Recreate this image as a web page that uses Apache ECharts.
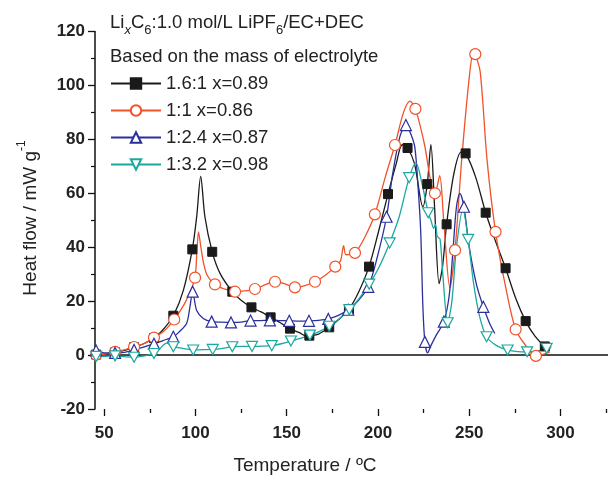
<!DOCTYPE html>
<html><head><meta charset="utf-8">
<script src="https://cdn.jsdelivr.net/npm/echarts@6/dist/echarts.min.js"></script>
<style>html,body{margin:0;padding:0;background:#fff}#c{width:608px;height:477px}</style>
</head><body><div id="c"></div>
<script>
const seriesNames = ['1.6:1 x=0.89', '1:1 x=0.86', '1:2.4 x=0.87', '1:3.2 x=0.98'];
const xMajorTicks = [50, 100, 150, 200, 250, 300];
const xMinorTicks = [75, 125, 175, 225, 275, 325];

const blackCurve = [[45,0],[50,0.3],[61,1.7],[72,4.3],[82,9.2],[93.4,24],[100.7,51.3],[102.9,66.3],[105.2,51.3],[113.5,30.3],[125,20.3],[136,16],[146.5,12],[157,8.3],[160.5,7.1],[167.5,7.8],[178.5,13.2],[189.5,23.5],[200,45],[210,71],[213.3,78],[220,71],[224.6,55],[229,78],[231,55],[233.5,26.5],[235.4,33],[241.5,67],[245.5,75.3],[253.5,66],[264.5,42],[275.5,21],[286,7],[294.5,2.5]];
const blackMarks = [[45.6,0.2],[56,1],[66.4,2.9],[77.3,6.3],[87.9,14.6],[98.3,39.2],[109.2,38.3],[120.2,23.5],[130.7,17.7],[141.2,14],[151.8,9.8],[162.4,7.2],[173.3,10.3],[184.1,17],[195.1,32.8],[205.5,59.7],[216.2,76.8],[227,63.4],[237.6,48.5],[248,74.8],[259,52.8],[269.9,32.2],[280.9,12.6],[291.4,3.2]];

const redCurve = [[45,0],[50,0.3],[61,1.9],[72,4.3],[83,9],[94,19],[97.5,24],[100.8,38],[101.7,45.7],[103,40],[104.5,34],[106.5,29.5],[116,24.5],[127,23.8],[138,26],[149,26.4],[160,25.8],[171,29.5],[179.5,35],[181.2,40.6],[182.5,37.2],[193,44],[204,66],[214,90],[217.5,94.2],[225.5,78],[229,64],[233.8,66.5],[236,50],[239.4,25],[245.8,72],[250,103],[252.3,112.5],[256,105],[259.8,72],[270,25],[281,3.5],[290,0.2],[294.2,1.2]];
const redMarks = [[45.6,0.1],[56,1.2],[66.4,3],[77.3,6.5],[88.4,13.2],[99.8,28.7],[110.7,26.2],[121.7,23.5],[132.6,24.5],[143.6,27.2],[154.5,25.1],[165.5,27.2],[176.6,32.8],[187.4,37.9],[198.3,52.2],[209.3,77.9],[220.5,91.3],[231.2,60],[242.2,38.9],[253.3,111.6],[264.4,45.7],[275.4,9.5],[286.5,-0.3]];

const blueCurve = [[45,1.2],[50,0.8],[61,1],[72,3],[82,5.3],[91,8.5],[95.2,11.8],[97,17.9],[100.7,16.5],[104.3,13.6],[114,12.2],[125,12.2],[135.5,12.8],[146,12.8],[157,12.6],[167.5,12.9],[178,14.6],[189,20],[199.5,36],[208,67],[212,81],[218,82],[220.2,77],[222,62],[223.4,46],[224.6,18],[227.2,0.8],[229,3.5],[232,7.5],[239,22],[241,38],[243,55],[244.9,60],[250,40],[254,26],[261,12],[264,8]];
const blueMarks = [[45.6,1.7],[56,0.8],[66.4,1.9],[77.3,4.2],[87.9,6.8],[98.5,23.5],[108.9,12.4],[119.5,12.1],[130.2,12.8],[140.8,12.9],[151.4,12.7],[162.2,12.7],[172.8,13.4],[183.7,16.8],[194.7,25.3],[204.7,51.3],[215.3,85.3],[225.7,4.9],[236.1,12.4],[247.1,55],[257.7,17.9]];

const cyanCurve = [[45,-1],[50,-0.5],[61,-0.6],[72,-0.3],[80,2],[84.3,4.4],[93,2.5],[104,2],[115,2.5],[126,3.2],[136.5,3.3],[147,4.2],[157.5,6.2],[168,8.8],[178.5,13.3],[189.5,20.8],[200.5,32.5],[211.5,51],[220.8,71.3],[224,64],[229,50],[230.5,47],[231.5,48.5],[232.5,44],[234,43],[235.5,30],[240.5,20],[243,40],[246.5,54],[252.5,26],[255.8,14],[265,3.5],[276.5,1.3],[287,1.5],[295,3]];
const cyanMarks = [[45.6,-0.5],[56,-0.3],[66.4,-0.8],[77.3,0.6],[87.9,3.1],[98.8,1.9],[109.5,2.1],[120.2,3.1],[131,3.2],[141.8,3.5],[152.3,5.2],[162.7,7.4],[173.3,10.7],[184.3,16.8],[195.2,26.3],[206.4,41.6],[217.1,65.8],[227.5,52.8],[238.2,12],[249.4,42.9],[259.5,6.8],[271,1.9],[281.7,1.2],[292.4,2.5]];

const FONT = '"Liberation Sans", Arial, Helvetica, sans-serif';
const colors = ['#1a1a1a', '#f0522a', '#2b2f9c', '#1aa89f'];

function merge(curve, marks) {
  const items = curve.map(p => ({ value: p, symbol: 'none' }))
    .concat(marks.map(p => ({ value: p })));
  items.sort((a, b) => a.value[0] - b.value[0]);
  return items;
}

function mk(i, curve, marks, symbol, size, filled) {
  return {
    name: seriesNames[i],
    type: 'line',
    xAxisIndex: 0,
    data: merge(curve, marks),
    smooth: 0.3,
    showAllSymbol: true,
    symbol: symbol,
    symbolSize: size,
    lineStyle: { color: colors[i], width: 1.3 },
    itemStyle: filled ? { color: colors[i], borderColor: colors[i], borderWidth: 1 }
                      : { color: '#ffffff', borderColor: colors[i], borderWidth: 1.2 },
    emphasis: { disabled: true },
    animation: false
  };
}

function tickAxis(values, len) {
  return {
    type: 'value', min: 45, max: 326, position: 'bottom', offset: 0,
    axisLine: { show: false },
    axisTick: { show: true, length: len, customValues: values, lineStyle: { color: '#111', width: 1.3 } },
    axisLabel: { show: false },
    splitLine: { show: false }
  };
}

const chart = echarts.init(document.getElementById('c'), null, { renderer: 'canvas' });
chart.setOption({
  backgroundColor: '#ffffff',
  animation: false,
  grid: { left: 95, right: 0, top: 31.5, bottom: 68, containLabel: false },
  xAxis: [{
    type: 'value', min: 45, max: 326,
    axisLine: { show: true, lineStyle: { color: '#111', width: 1.5 } },
    axisTick: { show: false },
    axisLabel: { customValues: xMajorTicks, fontSize: 17, fontWeight: 'bold', color: '#222', fontFamily: FONT, margin: 16 },
    splitLine: { show: false }
  }, tickAxis(xMinorTicks, 4), tickAxis(xMajorTicks, 7)],
  yAxis: {
    type: 'value', min: -20, max: 120, interval: 20,
    axisLine: { show: true, onZero: false, lineStyle: { color: '#111', width: 1.5 } },
    axisTick: { show: true, length: 7, lineStyle: { color: '#111', width: 1.3 } },
    minorTick: { show: true, splitNumber: 2, length: 4, lineStyle: { color: '#111', width: 1.2 } },
    axisLabel: { fontSize: 17, fontWeight: 'bold', color: '#222', fontFamily: FONT, margin: 10 },
    splitLine: { show: false }
  },
  legend: {
    orient: 'vertical', left: 105, top: 69,
    itemWidth: 50, itemHeight: 13, itemGap: 8,
    textStyle: { fontSize: 18.5, color: '#222', fontFamily: FONT, lineHeight: 17 },
    data: seriesNames,
    selectedMode: false
  },
  graphic: [
    {
      type: 'text', left: 110, top: 13,
      style: {
        text: '{n|Li}{s|x}{n|C}{t|6}{n|:1.0 mol/L LiPF}{t|6}{n|/EC+DEC}',
        rich: {
          n: { fontSize: 18.5, fontFamily: FONT, fill: '#222', lineHeight: 28, verticalAlign: 'top' },
          s: { fontSize: 13, fontFamily: FONT, fill: '#222', fontStyle: 'italic', lineHeight: 28, verticalAlign: 'top', padding: [11,0,0,0] },
          t: { fontSize: 13, fontFamily: FONT, fill: '#222', lineHeight: 28, verticalAlign: 'top', padding: [11,0,0,0] }
        }
      }
    },
    {
      type: 'text', left: 110, top: 47,
      style: { text: 'Based on the mass of electrolyte', font: '18.5px ' + FONT, fill: '#222' }
    },
    {
      type: 'text', x: 305, y: 466,
      style: { text: 'Temperature / ºC', font: '19px ' + FONT, fill: '#222', align: 'center', verticalAlign: 'middle' }
    },
    {
      type: 'text', x: 28, y: 218, rotation: Math.PI / 2,
      style: {
        text: '{n|Heat flow / mW g}{s|-1}', align: 'center', verticalAlign: 'middle',
        rich: {
          n: { fontSize: 19, fontFamily: FONT, fill: '#222', lineHeight: 24, verticalAlign: 'bottom' },
          s: { fontSize: 12, fontFamily: FONT, fill: '#222', lineHeight: 24, verticalAlign: 'top' }
        }
      }
    }
  ],
  series: [
    mk(0, blackCurve, blackMarks, 'rect', 9, true),
    mk(1, redCurve, redMarks, 'circle', 11, false),
    mk(2, blueCurve, blueMarks, 'triangle', 11, false),
    mk(3, cyanCurve, cyanMarks, 'path://M0,0 L10,0 L5,9 Z', [11, 10], false)
  ]
});
</script>
</body></html>
